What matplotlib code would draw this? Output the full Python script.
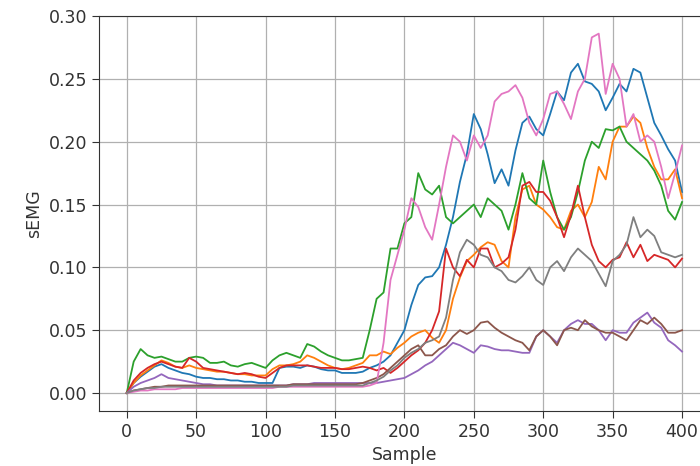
import numpy as np
import matplotlib
matplotlib.use("Agg")
import matplotlib.pyplot as plt

# sample index every 5 samples
samples = np.arange(0, 401, 5)

ch0 = [0.0, 0.008, 0.013, 0.017, 0.021, 0.023, 0.02, 0.018, 0.016, 0.015, 0.013, 0.012, 0.012, 0.011, 0.011,
       0.01, 0.01, 0.009, 0.009, 0.008, 0.008, 0.008, 0.02, 0.021, 0.021, 0.02, 0.022, 0.021, 0.019, 0.018,
       0.018, 0.016, 0.016, 0.016, 0.017, 0.02, 0.022, 0.025, 0.03, 0.04, 0.05, 0.07, 0.086, 0.092, 0.093,
       0.1, 0.118, 0.14, 0.168, 0.19, 0.222, 0.21, 0.19, 0.167, 0.178, 0.165, 0.193, 0.215, 0.22, 0.21,
       0.205, 0.222, 0.24, 0.233, 0.255, 0.262, 0.248, 0.246, 0.24, 0.225, 0.235, 0.246, 0.24, 0.258, 0.255,
       0.235, 0.215, 0.205, 0.194, 0.185, 0.16]
ch1 = [0.0, 0.008, 0.014, 0.018, 0.022, 0.026, 0.024, 0.021, 0.02, 0.022, 0.02, 0.019, 0.018, 0.017, 0.017,
       0.016, 0.015, 0.015, 0.014, 0.014, 0.014, 0.019, 0.022, 0.022, 0.023, 0.025, 0.03, 0.028, 0.025, 0.022,
       0.02, 0.019, 0.02, 0.022, 0.024, 0.03, 0.03, 0.033, 0.031, 0.036, 0.04, 0.045, 0.048, 0.05, 0.044,
       0.04, 0.05, 0.075, 0.092, 0.105, 0.11, 0.116, 0.12, 0.118, 0.105, 0.1, 0.14, 0.162, 0.165, 0.15,
       0.146, 0.14, 0.132, 0.13, 0.145, 0.15, 0.14, 0.152, 0.18, 0.17, 0.2, 0.212, 0.212, 0.22, 0.215,
       0.195, 0.18, 0.17, 0.17, 0.178, 0.155]
ch2 = [0.0, 0.025, 0.035, 0.03, 0.028, 0.029, 0.027, 0.025, 0.025, 0.028, 0.029, 0.028, 0.024, 0.024, 0.025,
       0.022, 0.021, 0.023, 0.024, 0.022, 0.02, 0.026, 0.03, 0.032, 0.03, 0.028, 0.039, 0.037, 0.033, 0.03,
       0.028, 0.026, 0.026, 0.027, 0.028, 0.05, 0.075, 0.08, 0.115, 0.115, 0.135, 0.14, 0.175, 0.162, 0.158,
       0.165, 0.14, 0.135, 0.14, 0.145, 0.15, 0.14, 0.155, 0.15, 0.145, 0.13, 0.15, 0.175, 0.155, 0.15,
       0.185, 0.16, 0.14, 0.13, 0.14, 0.16, 0.185, 0.2, 0.195, 0.21, 0.209, 0.212, 0.2, 0.195, 0.19,
       0.185, 0.177, 0.165, 0.145, 0.138, 0.152]
ch3 = [0.0, 0.01, 0.016, 0.02, 0.023, 0.025, 0.023, 0.021, 0.02, 0.028, 0.025, 0.02, 0.019, 0.018, 0.017,
       0.016, 0.015, 0.016, 0.015, 0.013, 0.012, 0.016, 0.02, 0.022, 0.022, 0.022, 0.022, 0.021, 0.02, 0.02,
       0.02, 0.019, 0.019, 0.02, 0.021, 0.02, 0.018, 0.02, 0.016, 0.02, 0.025, 0.03, 0.034, 0.04, 0.05,
       0.065, 0.115, 0.1, 0.093, 0.106, 0.1, 0.115, 0.115, 0.1, 0.103, 0.108, 0.13, 0.165, 0.168, 0.16,
       0.16, 0.153, 0.14, 0.124, 0.142, 0.165, 0.14, 0.118, 0.105, 0.1, 0.106, 0.108, 0.12, 0.108, 0.118,
       0.105, 0.11, 0.108, 0.106, 0.1, 0.107]
ch4 = [0.0, 0.005, 0.008, 0.01, 0.012, 0.015, 0.012, 0.011, 0.01, 0.009, 0.008, 0.007, 0.007, 0.006, 0.006,
       0.006, 0.006, 0.006, 0.006, 0.006, 0.006, 0.006, 0.006, 0.006, 0.007, 0.007, 0.007, 0.008, 0.008, 0.008,
       0.008, 0.008, 0.008, 0.008, 0.008, 0.008, 0.008, 0.009, 0.01, 0.011, 0.012, 0.015, 0.018, 0.022, 0.025,
       0.03, 0.035, 0.04, 0.038, 0.035, 0.032, 0.038, 0.037, 0.035, 0.034, 0.034, 0.033, 0.032, 0.032, 0.045,
       0.05, 0.045, 0.04, 0.05, 0.055, 0.058, 0.055, 0.055, 0.05, 0.042, 0.05, 0.048, 0.048, 0.056, 0.06,
       0.064, 0.056, 0.052, 0.042, 0.038, 0.033]
ch5 = [0.0, 0.002, 0.003, 0.004, 0.005, 0.005, 0.006, 0.006, 0.006, 0.006, 0.006, 0.006, 0.006, 0.006, 0.006,
       0.006, 0.006, 0.006, 0.006, 0.006, 0.006, 0.006, 0.006, 0.006, 0.007, 0.007, 0.007, 0.007, 0.007, 0.007,
       0.007, 0.007, 0.007, 0.007, 0.008, 0.01, 0.012, 0.015, 0.02, 0.025, 0.03, 0.035, 0.038, 0.03, 0.03,
       0.035, 0.038, 0.045, 0.05, 0.047, 0.05, 0.056, 0.057, 0.052, 0.048, 0.045, 0.042, 0.04, 0.034, 0.045,
       0.05, 0.045, 0.038, 0.05, 0.052, 0.05, 0.058, 0.053, 0.05, 0.048, 0.048, 0.045, 0.042, 0.05, 0.058,
       0.055, 0.06, 0.055, 0.048, 0.048, 0.05]
ch6 = [0.0, 0.001, 0.002, 0.002, 0.003, 0.003, 0.003, 0.003, 0.004, 0.004, 0.004, 0.004, 0.004, 0.004, 0.004,
       0.004, 0.004, 0.004, 0.004, 0.004, 0.004, 0.004, 0.005, 0.005, 0.005, 0.005, 0.005, 0.005, 0.005, 0.005,
       0.005, 0.005, 0.005, 0.005, 0.005, 0.006, 0.008, 0.04, 0.09, 0.11, 0.13, 0.155, 0.148, 0.132, 0.122,
       0.15, 0.18, 0.205, 0.2, 0.185, 0.205, 0.195, 0.205, 0.232, 0.238, 0.24, 0.245, 0.235, 0.215, 0.205,
       0.218, 0.238, 0.24, 0.23, 0.218, 0.24, 0.25, 0.283, 0.286, 0.238, 0.262, 0.25, 0.212, 0.222, 0.2,
       0.205, 0.2, 0.18, 0.155, 0.175, 0.197]
ch7 = [0.0, 0.002, 0.003, 0.004, 0.004, 0.005, 0.005, 0.005, 0.005, 0.005, 0.005, 0.005, 0.005, 0.005, 0.005,
       0.005, 0.005, 0.005, 0.005, 0.005, 0.005, 0.005, 0.005, 0.005, 0.006, 0.006, 0.006, 0.006, 0.006, 0.006,
       0.006, 0.006, 0.006, 0.006, 0.006, 0.008, 0.01, 0.013, 0.018, 0.022, 0.028, 0.032, 0.035, 0.04, 0.042,
       0.045, 0.06, 0.09, 0.112, 0.122, 0.118, 0.11, 0.108, 0.1, 0.097, 0.09, 0.088, 0.093, 0.1, 0.09,
       0.086, 0.1, 0.105, 0.097, 0.108, 0.115, 0.11, 0.105, 0.095, 0.085, 0.105, 0.11, 0.118, 0.14, 0.124,
       0.13, 0.125, 0.112, 0.11, 0.108, 0.11]

channels = [ch0, ch1, ch2, ch3, ch4, ch5, ch6, ch7]

fig = plt.figure(figsize=(7, 4.66), dpi=100)
ax = fig.add_axes([0.1414, 0.118, 0.8726, 0.8476])

for ch in channels:
    ax.plot(samples, ch, linewidth=1.3)

ax.set_xlim(-20, 420)
ax.set_ylim(-0.0143, 0.30)
ax.set_xticks([0, 50, 100, 150, 200, 250, 300, 350, 400])
ax.set_yticks([0.0, 0.05, 0.10, 0.15, 0.20, 0.25, 0.30])
ax.yaxis.set_major_formatter(matplotlib.ticker.FormatStrFormatter("%.2f"))
ax.grid(True, color="#b0b0b0", linewidth=0.9)
ax.tick_params(axis="both", labelsize=12.5, colors="#333333", length=5)
for side in ax.spines.values():
    side.set_color("#333333")
ax.set_xlabel("Sample", fontsize=12.5, color="#333333")
ax.set_ylabel("sEMG", fontsize=12.5, color="#333333")

plt.savefig("out.png")
